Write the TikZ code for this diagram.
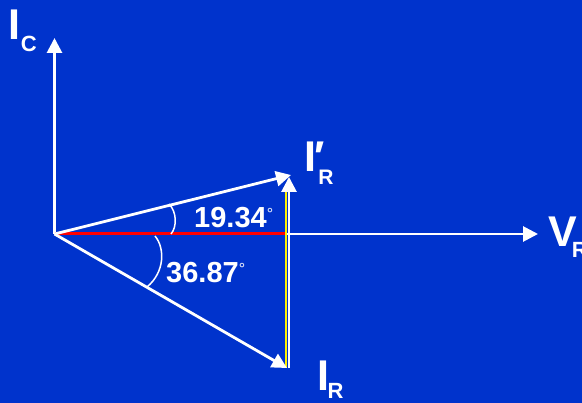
\documentclass[tikz,border=0pt]{standalone}
\usepackage{fontspec}
\setmainfont{Liberation Sans}
\usetikzlibrary{arrows.meta}
\definecolor{bg}{RGB}{0,51,204}
\begin{document}
\begin{tikzpicture}[x=1pt,y=-1pt,
  vec/.style={draw=white,line width=2.8pt,-{Triangle[length=15pt,width=15pt]}},
  angarc/.style={draw=white,line width=1.5pt},
  lbl/.style={text=white,inner sep=0pt,anchor=base west,font=\bfseries\fontsize{43}{43}\selectfont},
  num/.style={text=white,inner sep=0pt,anchor=base west,font=\bfseries\fontsize{29}{29}\selectfont},
  subs/.style={}]
\fill[bg] (0,0) rectangle (582,403);
\useasboundingbox (0,0) rectangle (582,403);
\coordinate (O) at (54.5,234);
\coordinate (C) at (54.5,38);
\coordinate (V) at (538,234);
\coordinate (Rp) at (291,175);
\coordinate (R) at (287,368);
\coordinate (M) at (286,234);
\coordinate (Yt) at (286,185);
\coordinate (Yb) at (286,368);
\coordinate (Wb) at (289,368);
\coordinate (Wt) at (289,177);
% axes
\draw[vec] (O) -- (C);
\draw[vec] (O) -- (V);
\draw[red,line width=3pt] (O) -- (M);
% yellow and vertical white
\draw[yellow,line width=2pt] (Yb) -- (Yt);
\draw[vec] (Wb) -- (Wt);
% phasors
\draw[vec] (O) -- (Rp);
\draw[vec] (O) -- (R);
% angle arcs
\draw[angarc] (171,234) .. controls (177,227) and (177,212) .. (169,204);
\draw[angarc] (155,236) .. controls (165,248) and (165,272) .. (147,287);
% labels
\node[lbl] (lc) at (8.7,40) {I\raisebox{-11.3pt}{\fontsize{22}{22}\selectfont C}};
\node[lbl] (lrp) at (304.7,171.7) {I\rlap{\kern-2pt ′}\kern1.5pt\raisebox{-13.3pt}{\fontsize{21}{21}\selectfont R}};
\node[lbl] (lr) at (317,391) {I\kern-1.5pt\raisebox{-8pt}{\fontsize{22}{22}\selectfont R}};
\node[lbl] (lv) at (548,247) {V\kern-5pt\raisebox{-11pt}{\fontsize{22}{22}\selectfont R}};
\node[num] (a1) at (194,228) {19.34\raisebox{8.5pt}{\mdseries\fontsize{16}{16}\selectfont °}};
\node[num] (a2) at (166,283) {36.87\raisebox{8.5pt}{\mdseries\fontsize{16}{16}\selectfont °}};
\end{tikzpicture}
\end{document}
